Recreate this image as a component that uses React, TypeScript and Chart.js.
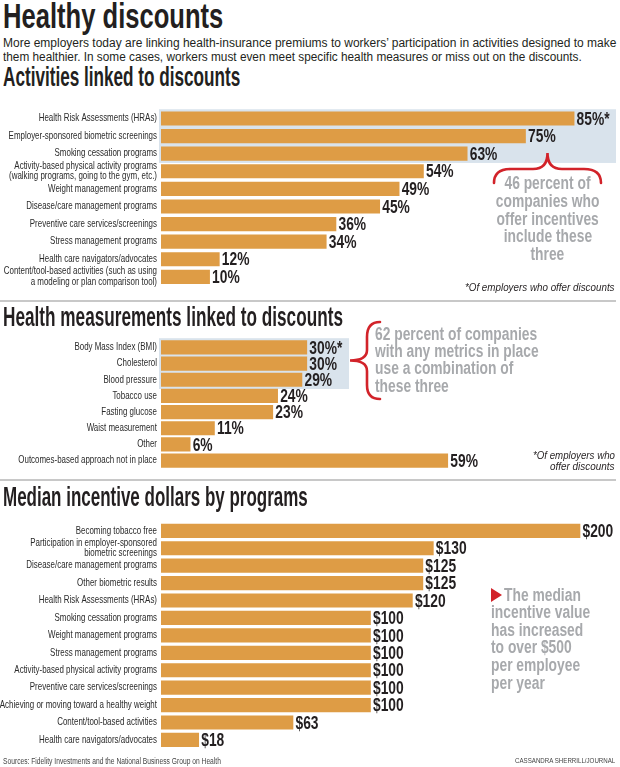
import React, { useEffect, useLayoutEffect, useRef, useState } from 'react';
import { Chart, registerables } from 'chart.js';

Chart.register(...registerables);

// ---------- DATA ----------
const activityLabels: (string | string[])[] = [
  'Health Risk Assessments (HRAs)',
  'Employer-sponsored biometric screenings',
  'Smoking cessation programs',
  ['Activity-based physical activity programs', '(walking programs, going to the gym, etc.)'],
  'Weight management programs',
  'Disease/care management programs',
  'Preventive care services/screenings',
  'Stress management programs',
  'Health care navigators/advocates',
  ['Content/tool-based activities (such as using', 'a modeling or plan comparison tool)'],
];
const activityValues = [85, 75, 63, 54, 49, 45, 36, 34, 12, 10];

const measureLabels: (string | string[])[] = [
  'Body Mass Index (BMI)',
  'Cholesterol',
  'Blood pressure',
  'Tobacco use',
  'Fasting glucose',
  'Waist measurement',
  'Other',
  'Outcomes-based approach not in place',
];
const measureValues = [30, 30, 29, 24, 23, 11, 6, 59];

const incentiveLabels: (string | string[])[] = [
  'Becoming tobacco free',
  ['Participation in employer-sponsored', 'biometric screenings'],
  'Disease/care management programs',
  'Other biometric results',
  'Health Risk Assessments (HRAs)',
  'Smoking cessation programs',
  'Weight management programs',
  'Stress management programs',
  'Activity-based physical activity programs',
  'Preventive care services/screenings',
  'Achieving or moving toward a healthy weight',
  'Content/tool-based activities',
  'Health care navigators/advocates',
];
const incentiveValues = [200, 130, 125, 125, 120, 100, 100, 100, 100, 100, 100, 63, 18];

// ---------- STYLE ----------
const LIB = '"Liberation Sans", Arial, sans-serif';
const ORANGE = '#DE9C45';
const BOX = '#D9E3EC';
const INK = '#231F20';
const GRAY = '#A7A9AC';
const RED = '#D2232A';
const CONDENSE = 0.78;

type Cfg = {
  labels: (string | string[])[];
  values: number[];
  fmt: (v: number, i: number) => string;
  max: number;
  top: number;
  height: number;
  padTop: number;
  padBottom: number;
  box?: { count: number; right: number };
};

function BarChart({ cfg }: { cfg: Cfg }) {
  const ref = useRef<HTMLCanvasElement>(null);
  useEffect(() => {
    const canvas = ref.current!;
    const condensePlugin = {
      id: 'condenseTicks',
      beforeDraw(chart: any) {
        const s = chart.scales.y;
        if (s && !s.__patched) {
          const orig = s.drawLabels.bind(s);
          s.drawLabels = (area: any) => {
            const ctx = s.ctx;
            const ax = s.right - 4;
            const savedLeft = s.left;
            s.left = -400; // widen the label clip region (it is applied in scaled space)
            ctx.save();
            ctx.translate(ax, 0);
            ctx.scale(CONDENSE, 1);
            ctx.translate(-ax, 0);
            orig(area);
            ctx.restore();
            s.left = savedLeft;
          };
          s.__patched = true;
        }
      },
    };
    const boxPlugin = {
      id: 'hlbox',
      beforeDatasetsDraw(chart: any) {
        if (!cfg.box) return;
        const bars = chart.getDatasetMeta(0).data as any[];
        const first = bars[0];
        const last = bars[cfg.box.count - 1];
        const top = first.y - first.height / 2 - 2.5;
        const bottom = last.y + last.height / 2 + 2.5;
        const left = chart.chartArea.left - 2;
        const ctx = chart.ctx;
        ctx.save();
        ctx.fillStyle = BOX;
        ctx.fillRect(left, top, cfg.box.right - left, bottom - top);
        ctx.restore();
      },
    };
    const valuePlugin = {
      id: 'vals',
      afterDatasetsDraw(chart: any) {
        const bars = chart.getDatasetMeta(0).data as any[];
        const ctx = chart.ctx;
        bars.forEach((b: any, i: number) => {
          ctx.save();
          ctx.font = `bold 17.5px ${LIB}`;
          ctx.fillStyle = INK;
          ctx.textAlign = 'left';
          ctx.textBaseline = 'alphabetic';
          ctx.translate(b.x + 2.5, b.y + 6.2);
          ctx.scale(0.79, 1);
          ctx.fillText(cfg.fmt(cfg.values[i], i), 0, 0);
          ctx.restore();
        });
      },
    };
    const chart = new Chart(canvas, {
      type: 'bar',
      data: {
        labels: cfg.labels as any,
        datasets: [
          {
            data: cfg.values,
            backgroundColor: ORANGE,
            borderWidth: 0,
            barThickness: 13.5,
          },
        ],
      },
      options: {
        indexAxis: 'y',
        responsive: false,
        animation: false,
        layout: { padding: { top: cfg.padTop, bottom: cfg.padBottom, left: 0, right: 0 } },
        plugins: { legend: { display: false }, tooltip: { enabled: false }, title: { display: false } },
        scales: {
          x: { display: false, min: 0, max: cfg.max },
          y: {
            grid: { display: false, drawTicks: false },
            border: { display: false },
            ticks: {
              autoSkip: false,
              padding: 4,
              color: '#2a2a2a',
              font: { family: LIB, size: 10.2, lineHeight: 1.05 },
            },
            afterFit: (s: any) => {
              s.width = 161;
            },
          },
        },
      } as any,
      plugins: [condensePlugin, boxPlugin, valuePlugin],
    });
    return () => chart.destroy();
  }, []);
  return (
    <canvas
      ref={ref}
      width={620}
      height={cfg.height}
      style={{ position: 'absolute', left: 0, top: cfg.top, width: 620, height: cfg.height }}
    />
  );
}

type TxtProps = {
  text: string;
  x: number;
  base: number;
  size: number;
  weight?: number | string;
  italic?: boolean;
  color?: string;
  family?: string;
  align?: 'left' | 'right' | 'center';
  fit?: number;
  sx?: number;
};

function Txt({ text, x, base, size, weight = 400, italic = false, color = INK, family = LIB, align = 'left', fit, sx: fixed }: TxtProps) {
  const ref = useRef<HTMLSpanElement>(null);
  const [sx, setSx] = useState(fixed ?? 1);
  useLayoutEffect(() => {
    if (fit && ref.current) {
      const w = ref.current.offsetWidth;
      if (w > 0) setSx(fit / w);
    }
  }, [fit, text]);
  const top = base - 0.8465 * size;
  const outer: React.CSSProperties = {
    position: 'absolute',
    top,
    whiteSpace: 'nowrap',
    fontFamily: family,
    fontSize: size,
    lineHeight: `${size}px`,
    fontWeight: weight as any,
    fontStyle: italic ? 'italic' : 'normal',
    color,
  };
  if (align === 'left') {
    outer.left = x;
  } else if (align === 'right') {
    outer.left = x - 600;
    outer.width = 600;
    outer.textAlign = 'right';
  } else {
    outer.left = x - 300;
    outer.width = 600;
    outer.textAlign = 'center';
  }
  return (
    <div style={outer}>
      <span ref={ref} style={{ display: 'inline-block', transform: `scaleX(${sx})`, transformOrigin: align }}>
        {text}
      </span>
    </div>
  );
}

const chart1: Cfg = {
  labels: activityLabels,
  values: activityValues,
  fmt: (v, i) => `${v}%${i === 0 ? '*' : ''}`,
  max: 94.44,
  top: 95,
  height: 200,
  padTop: 4.0,
  padBottom: 2.9,
  box: { count: 3, right: 616 },
};
const chart2: Cfg = {
  labels: measureLabels,
  values: measureValues,
  fmt: (v, i) => `${v}%${i === 0 ? '*' : ''}`,
  max: 94.44,
  top: 330,
  height: 148,
  padTop: 3.8,
  padBottom: 4.8,
  box: { count: 3, right: 349 },
};
const chart3: Cfg = {
  labels: incentiveLabels,
  values: incentiveValues,
  fmt: (v) => `$${v}`,
  max: 219.1,
  top: 512,
  height: 246,
  padTop: 10.1,
  padBottom: 4.3,
};

export default function App() {
  return (
    <div
      style={{
        position: 'absolute',
        left: 0,
        top: 0,
        width: 620,
        height: 767,
        overflow: 'hidden',
        background: '#fff',
      }}
    >
      <Txt text="Healthy discounts" x={3} base={28} size={35} weight={700} fit={220} />
      <Txt
        text="More employers today are linking health-insurance premiums to workers’ participation in activities designed to make"
        x={3}
        base={48}
        size={12.5}
        fit={613}
      />
      <Txt
        text="them healthier. In some cases, workers must even meet specific health measures or miss out on the discounts."
        x={3}
        base={61.5}
        size={12.5}
        fit={579}
      />
      <Txt text="Activities linked to discounts" x={3} base={87} size={28} weight={700} fit={237} />

      <BarChart cfg={chart1} />

      <Txt text="*Of employers who offer discounts" x={615} base={291.5} size={11} italic align="right" fit={150} />

      {['46 percent of', 'companies who', 'offer incentives', 'include these', 'three'].map((t, i) => (
        <Txt key={t} text={t} x={547.5} base={190 + i * 17.7} size={17.5} weight={700} color={GRAY} align="center" sx={0.79} />
      ))}

      <div style={{ position: 'absolute', left: 0, top: 299.5, width: 616, height: 2, background: '#C8C8C8' }} />
      <Txt text="Health measurements linked to discounts" x={3} base={327} size={28} weight={700} fit={340} />

      <BarChart cfg={chart2} />

      {['62 percent of companies', 'with any metrics in place', 'use a combination of', 'these three'].map((t, i) => (
        <Txt key={t} text={t} x={375} base={340.5 + i * 17.4} size={17.5} weight={700} color={GRAY} sx={0.79} />
      ))}
      <Txt text="*Of employers who" x={615} base={459} size={11} italic align="right" fit={82} />
      <Txt text="offer discounts" x={615} base={470} size={11} italic align="right" fit={65} />

      <div style={{ position: 'absolute', left: 0, top: 479, width: 616, height: 2, background: '#C8C8C8' }} />
      <Txt text="Median incentive dollars by programs" x={3} base={507} size={27} weight={700} fit={305} />

      <BarChart cfg={chart3} />

      {['The median', 'incentive value', 'has increased', 'to over $500', 'per employee', 'per year'].map((t, i) => (
        <Txt key={t} text={t} x={i === 0 ? 504 : 491} base={601.5 + i * 17.6} size={17.5} weight={700} color={GRAY} sx={0.79} />
      ))}

      <Txt
        text="Sources: Fidelity Investments and the National Business Group on Health"
        x={3}
        base={764}
        size={8.5}
        color="#444"
        fit={218}
      />
      <Txt text="CASSANDRA SHERRILL/JOURNAL" x={615} base={764} size={8} color="#444" align="right" fit={100} />

      <svg width={620} height={767} style={{ position: 'absolute', left: 0, top: 0, pointerEvents: 'none' }}>
        <path
          d="M494,183 C494,174 499,169 511,169 L533,169 C542,169 547.5,164 547.5,153 C547.5,164 553,169 562,169 L584,169 C596,169 601,174 601,183"
          fill="none"
          stroke={RED}
          strokeWidth={2.6}
          strokeLinecap="round"
        />
        <path
          d="M380,322 C370,322 367,328 367,337 L367,350 C367,357 362,360.5 350,360.5 C362,360.5 367,364 367,371 L367,385 C367,393 370,399 380,399"
          fill="none"
          stroke={RED}
          strokeWidth={2.6}
          strokeLinecap="round"
        />
        <polygon points="491,588 502,595 491,602" fill={RED} />
      </svg>
    </div>
  );
}
